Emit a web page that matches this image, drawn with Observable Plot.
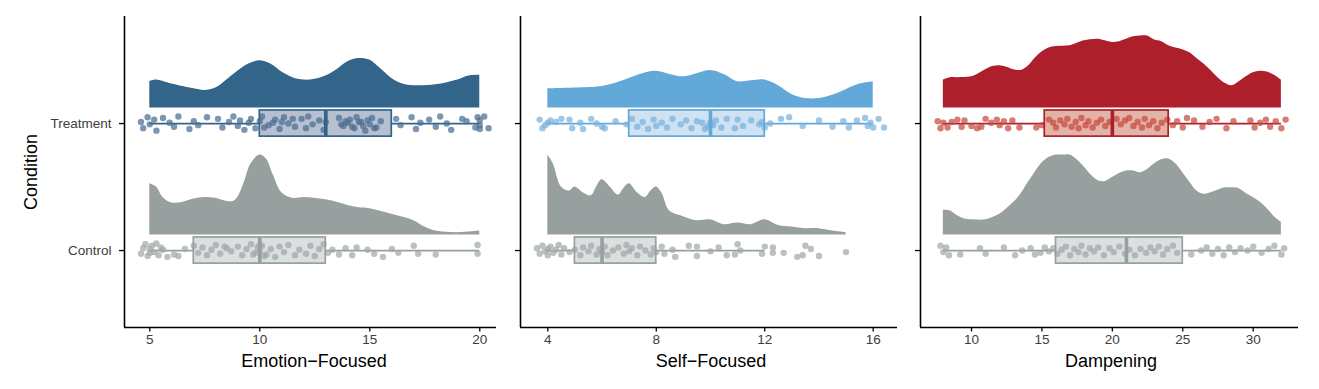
<!DOCTYPE html>
<html><head><meta charset="utf-8">
<script src="https://cdn.jsdelivr.net/npm/d3@7"></script>
<script src="https://cdn.jsdelivr.net/npm/@observablehq/plot@0.6"></script>
<style>
body{margin:0;background:#fff;font-family:"Liberation Sans",Arial,Helvetica,sans-serif}
#chart{position:relative;width:1319px;height:389px;overflow:hidden}
#chart svg{position:absolute;top:0}
.xt{position:absolute;top:352px;width:300px;height:18px;line-height:18px;font-size:18px;text-align:center;color:#000}
.yt{position:absolute;width:200px;height:18px;line-height:18px;font-size:18px;text-align:center;color:#000;transform:rotate(-90deg)}
</style></head><body><div id="chart"></div>
<script>
// ---------- data ----------
const conditions = ["Control", "Treatment"];
const measures = ["Emotion−Focused", "Self−Focused", "Dampening"];

const ticksEmotion = [5, 10, 15, 20];
const ticksSelf = [4, 8, 12, 16];
const ticksDamp = [10, 15, 20, 25, 30];

// box stats: [lower whisker, Q1, median, Q3, upper whisker]
const boxEmotionTreatment = [5, 10, 13, 16, 20];
const boxEmotionControl = [5, 7, 10, 13, 20];
const boxSelfTreatment = [4, 7, 10, 12, 16];
const boxSelfControl = [4, 5, 6, 8, 12];
const boxDampTreatment = [8, 15.2, 20, 24, 32];
const boxDampControl = [8, 16, 21, 25, 32];

// densities: [value, relative density] (1 = tallest curve in the panel)
const densEmotionTreatment = [[5,.33],[5.3,.35],[6,.30],[7,.24],[7.5,.22],[8,.25],[8.5,.35],[9,.46],[9.5,.55],[10,.59],[10.5,.55],[11,.45],[11.5,.38],[12,.35],[12.5,.36],[13,.40],[13.5,.48],[14,.58],[14.5,.62],[15,.60],[15.5,.49],[16,.37],[16.5,.30],[17,.28],[18,.29],[19,.35],[19.5,.40],[20,.41]];
const densEmotionControl = [[5,.64],[5.3,.60],[5.6,.47],[6,.40],[6.5,.41],[7,.45],[7.5,.47],[8,.46],[8.5,.42],[8.8,.42],[9,.47],[9.3,.66],[9.6,.89],[10,1],[10.3,.95],[10.6,.76],[11,.53],[11.5,.46],[12,.47],[12.5,.46],[13,.44],[13.5,.41],[14,.37],[14.5,.34],[15,.33],[16,.26],[17,.18],[17.5,.10],[18,.05],[19,.03],[20,.05]];
const densSelfTreatment = [[4,.24],[5,.25],[6,.27],[6.5,.31],[7,.37],[7.5,.43],[8,.46],[8.5,.42],[9,.39],[9.5,.43],[10,.47],[10.5,.42],[11,.33],[11.5,.34],[12,.35],[12.5,.28],[13,.17],[13.5,.12],[14,.12],[14.5,.16],[15,.23],[15.5,.30],[16,.33]];
const densSelfControl = [[4,1],[4.2,.89],[4.5,.60],[4.8,.55],[5,.60],[5.3,.53],[5.6,.49],[5.8,.60],[6,.69],[6.3,.60],[6.6,.50],[6.8,.58],[7,.64],[7.3,.53],[7.6,.47],[7.8,.55],[8,.60],[8.2,.53],[8.5,.30],[9,.23],[9.5,.18],[10,.19],[10.5,.13],[11,.15],[11.5,.13],[12,.19],[12.5,.12],[13,.10],[13.5,.08],[14,.08],[14.5,.05],[15,.03]];
const densDampTreatment = [[8,.35],[8.5,.38],[9,.38],[10,.39],[10.5,.43],[11,.48],[11.5,.52],[12,.53],[12.5,.51],[13,.48],[13.5,.47],[14,.52],[14.5,.62],[15,.70],[15.5,.75],[16,.77],[17,.78],[17.5,.81],[18,.84],[19,.86],[19.5,.84],[20,.82],[20.5,.83],[21,.86],[21.5,.89],[22,.90],[22.5,.90],[23,.85],[23.5,.83],[24,.78],[24.5,.75],[25,.73],[25.5,.69],[26,.62],[26.5,.55],[27,.47],[27.5,.38],[28,.31],[28.5,.28],[29,.33],[29.5,.39],[30,.44],[30.5,.46],[31,.45],[31.5,.41],[32,.35]];
const densDampControl = [[8,.31],[8.5,.30],[9,.24],[9.5,.20],[10,.19],[11,.19],[11.5,.22],[12,.26],[12.5,.33],[13,.41],[13.5,.51],[14,.65],[14.5,.78],[15,.90],[15.5,.97],[16,1],[16.5,1],[17,1],[17.5,.94],[18,.85],[18.5,.75],[19,.68],[19.5,.67],[20,.72],[20.5,.77],[21,.80],[21.5,.80],[22,.78],[22.5,.82],[23,.89],[23.5,.94],[24,.95],[24.5,.89],[25,.78],[25.5,.66],[26,.55],[26.5,.51],[27,.53],[27.5,.56],[28,.59],[28.5,.59],[29,.58],[29.5,.52],[30,.47],[30.5,.41],[31,.33],[31.5,.23],[32,.16]];

// jittered observations: [value, vertical jitter in -1..1]
const ptsEmotionTreatment = [[4.6,.2],[4.7,-.6],[4.9,.8],[5.0,-.1],[5.2,.5],[5.3,-.9],[5.6,.7],[5.9,.1],[6.1,-.4],[6.3,.9],[6.8,-.7],[7.0,.3],[7.2,-.2],[7.6,.8],[8.1,.6],[8.3,-.5],[8.6,.2],[8.8,.9],[9.0,-.3],[9.1,.4],[9.3,-.8],[9.5,.1],[9.6,.6],[9.8,-.6],[10.0,.3],[10.1,.9],[10.2,-.5],[10.4,-.2],[10.6,.1],[10.7,.5],[10.9,-.7],[11.0,.2],[11.1,.8],[11.3,0],[11.5,.6],[11.6,-.4],[11.9,.6],[12.1,-.6],[12.2,.9],[12.4,-.1],[12.7,.4],[12.9,-.8],[13.0,.2],[13.6,.7],[13.7,-.1],[13.8,-.3],[13.9,.3],[14.0,.1],[14.1,.5],[14.2,-.4],[14.3,-.6],[14.4,.8],[14.5,.2],[14.6,.2],[14.7,-.3],[14.8,-.9],[14.9,.4],[15.0,-.1],[15.1,.7],[15.2,-.6],[15.3,-.5],[15.5,.3],[16.2,.6],[16.4,-.2],[16.9,.8],[17.1,-.7],[17.3,.1],[17.7,.5],[18.0,-.4],[18.2,.9],[18.5,0],[18.7,-.8],[19.2,.6],[19.4,.3],[19.8,-.5],[19.9,.8],[20.0,-.2],[20.0,.4],[20.0,-.7],[20.2,.9],[20.4,-.6]];
const ptsEmotionControl = [[4.6,-.4],[4.7,.3],[4.8,.8],[4.9,-.7],[5.0,.2],[5.0,-.3],[5.1,.6],[5.2,-.2],[5.3,.9],[5.4,-.6],[5.5,.4],[5.6,.1],[5.8,-.8],[6.1,-.5],[6.3,-.7],[6.6,.2],[7.0,.6],[7.2,-.3],[7.4,.4],[7.6,-.6],[7.8,.1],[8.0,.7],[8.2,-.4],[8.4,.5],[8.5,.3],[8.7,-.1],[9.0,.5],[9.2,-.6],[9.4,.2],[9.6,.8],[9.7,-.5],[9.8,-.3],[9.9,.4],[10.0,-.1],[10.0,.7],[10.1,.6],[10.2,-.7],[10.3,-.5],[10.5,.2],[10.7,-.8],[10.9,.5],[11.1,-.2],[11.3,.7],[11.6,-.6],[11.8,.1],[12.1,-.4],[12.3,.6],[12.5,-.7],[12.7,.2],[12.9,.8],[13.1,-.3],[13.3,.1],[13.6,-.5],[13.9,.3],[14.2,-.6],[14.4,.4],[14.9,.1],[15.2,-.4],[15.6,-.8],[16.0,.2],[16.3,-.3],[17.0,.6],[17.2,-.4],[18.0,-.5],[19.9,.7],[19.9,-.4]];
const ptsSelfTreatment = [[3.7,.5],[3.8,-.6],[3.9,-.2],[4.0,.1],[4.1,.4],[4.3,.2],[4.5,.6],[4.8,.5],[4.9,-.6],[5.2,.1],[5.3,-.7],[5.6,.6],[5.8,0],[6.0,-.4],[6.1,-.6],[6.5,.3],[6.9,-.1],[7.1,.6],[7.3,-.4],[7.5,.2],[7.7,-.7],[7.9,.5],[8.0,-.3],[8.2,.1],[8.4,-.5],[8.6,.6],[8.9,-.1],[9.1,.4],[9.3,-.6],[9.5,.3],[9.7,.1],[9.8,-.7],[9.9,-.4],[10.0,.2],[10.0,-.1],[10.1,-.2],[10.2,.4],[10.4,-.5],[10.6,.6],[10.9,-.6],[11.0,.5],[11.2,-.3],[11.5,.4],[11.8,-.1],[11.9,.2],[12.0,-.5],[12.2,0],[12.6,.6],[12.9,.8],[13.4,-.3],[14.0,.4],[14.5,-.4],[14.9,.3],[15.1,-.5],[15.4,.4],[15.7,.7],[15.8,-.3],[15.9,.1],[16.0,-.5],[16.2,.6],[16.4,-.5]];
const ptsSelfControl = [[3.6,.3],[3.7,-.4],[3.8,.6],[3.9,-.1],[4.0,.2],[4.0,-.6],[4.1,.5],[4.2,-.3],[4.3,.1],[4.4,.7],[4.5,-.5],[4.6,.3],[4.8,-.2],[5.0,.1],[5.2,-.6],[5.3,.4],[5.5,-.1],[5.6,.6],[5.8,-.5],[5.9,.2],[6.0,-.2],[6.1,.5],[6.2,-.6],[6.4,0],[6.6,.4],[6.8,-.4],[6.9,.7],[7.0,-.1],[7.1,.3],[7.3,-.6],[7.4,.5],[7.6,0],[7.8,-.5],[7.9,.3],[8.0,-.2],[8.2,.5],[8.3,-.4],[8.6,.1],[8.7,-.8],[9.2,.6],[9.5,.5],[9.5,-.7],[10.0,-.1],[10.3,.4],[10.6,-.6],[10.9,-.5],[11.0,.8],[11.1,0],[11.9,-.4],[12.0,.5],[12.3,.4],[12.3,-.3],[12.7,-.3],[13.2,-.8],[13.4,-.6],[13.5,.6],[13.7,.2],[14.0,-.7],[15.0,-.2]];
const ptsDampTreatment = [[7.6,.3],[7.8,-.6],[8.0,.1],[8.3,-.5],[8.6,.2],[9.0,.5],[9.3,-.4],[9.5,.4],[10.0,-.3],[10.4,-.6],[10.7,-.4],[11.0,.6],[11.4,.1],[11.8,.5],[12.0,-.2],[12.3,.3],[12.6,-.6],[12.9,.4],[13.4,-.5],[14.6,-.5],[15.0,-.2],[15.5,.5],[15.8,.1],[16.0,-.5],[16.3,.4],[16.6,-.1],[16.8,.6],[17.1,-.4],[17.4,.2],[17.6,-.6],[17.8,.7],[18.1,-.2],[18.3,.3],[18.6,-.5],[18.9,.1],[19.2,.5],[19.5,-.3],[19.8,.2],[20.3,.6],[20.6,-.1],[20.9,.4],[21.2,.7],[21.5,-.3],[21.8,.2],[22.1,-.5],[22.3,.6],[22.6,-.2],[22.9,.3],[23.2,-.6],[23.5,.1],[23.9,.5],[24.3,-.2],[24.6,.3],[25.0,-.5],[25.3,.7],[25.8,.4],[26.4,-.4],[26.9,.2],[27.4,.6],[28.1,-.6],[28.6,.3],[29.8,.4],[30.1,-.5],[30.5,.1],[30.9,.5],[31.2,-.4],[31.6,.3],[32.0,-.6],[32.3,.5]];
const ptsDampControl = [[7.8,.6],[8.0,-.2],[8.2,.4],[8.4,-.6],[9.2,-.5],[10.6,.3],[11.0,-.4],[12.3,.4],[13.1,-.6],[13.6,0],[14.2,.3],[14.5,-.5],[14.9,-.3],[15.2,.4],[15.5,-.1],[15.8,.3],[16.1,-.4],[16.4,.1],[16.7,.5],[17.0,-.6],[17.3,.2],[17.6,-.2],[17.8,.6],[18.1,-.5],[18.4,.3],[18.7,-.1],[19.0,.4],[19.4,-.6],[19.8,.3],[20.1,-.2],[20.5,.5],[20.9,-.4],[21.2,.1],[21.6,-.6],[22.0,.2],[22.4,-.3],[22.7,.4],[23.0,-.1],[23.3,.5],[23.6,-.5],[23.9,.2],[24.3,.6],[24.6,-.3],[25.6,-.5],[26.3,0],[26.7,.4],[27.1,-.4],[27.5,.2],[27.9,-.6],[28.3,.4],[28.7,-.2],[29.1,.3],[29.6,0],[30.0,.5],[30.6,-.3],[31.1,.2],[31.5,.6],[32.0,-.5],[32.2,.3]];

// ---------- styling ----------
const treatmentColors = ["#33658A", "#62A8D8", "#AD1F2A"];
const treatmentBoxFills = ["#b7c0d0", "#cfe2f3", "#e3b3a7"];
const treatmentPointColors = ["#4a6d93", "#7ab2de", "#c84a40"];
const controlColor = "#979F9F";
const controlBoxFill = "#dcdfdf";
const controlPointColor = "#a1a7a7";

const panels = [
  {title: measures[0], left: 0, width: 500, mL: 124, mR: 4, domain: [3.85, 20.76], ticks: ticksEmotion, titleX: 314,
   dens: [densEmotionControl, densEmotionTreatment], box: [boxEmotionControl, boxEmotionTreatment], pts: [ptsEmotionControl, ptsEmotionTreatment]},
  {title: measures[1], left: 500, width: 400, mL: 20, mR: 3, domain: [2.993, 16.896], ticks: ticksSelf, titleX: 711,
   dens: [densSelfControl, densSelfTreatment], box: [boxSelfControl, boxSelfTreatment], pts: [ptsSelfControl, ptsSelfTreatment]},
  {title: measures[2], left: 900, width: 419, mL: 20, mR: 21, domain: [6.379, 33.216], ticks: ticksDamp, titleX: 1111,
   dens: [densDampControl, densDampTreatment], box: [boxDampControl, boxDampTreatment], pts: [ptsDampControl, ptsDampTreatment]}
];

const yDomain = [0.394, 2.843];
const densOffset = 0.122, densScale = 0.63, boxHalf = 0.103, jitterAmp = 0.062;
const chart = document.getElementById("chart");

panels.forEach((p, pi) => {
  const marks = [];
  conditions.forEach((cond, ci) => {
    const cy = ci + 1;
    const isT = cond === "Treatment";
    const col = isT ? treatmentColors[pi] : controlColor;
    const boxFill = isT ? treatmentBoxFills[pi] : controlBoxFill;
    const ptCol = isT ? treatmentPointColors[pi] : controlPointColor;
    const dens = p.dens[ci].map(([x, d]) => ({x, d}));
    const [lo, q1, med, q3, hi] = p.box[ci];
    const pts = p.pts[ci].map(([x, j]) => ({x, j}));
    marks.push(
      Plot.areaY(dens, {x: "x", y1: cy + densOffset, y2: d => cy + densOffset + d.d * densScale, fill: col, curve: "catmull-rom"}),
      Plot.ruleY([{a: lo, b: q1}, {a: q3, b: hi}], {y: cy, x1: "a", x2: "b", stroke: col, strokeWidth: 1.7}),
      Plot.rect([{q1, q3}], {x1: "q1", x2: "q3", y1: cy - boxHalf, y2: cy + boxHalf, fill: boxFill}),
      Plot.dot(pts, {x: "x", y: d => cy + d.j * jitterAmp, r: 3.2, fill: ptCol, fillOpacity: 0.72, stroke: "none"}),
      Plot.rect([{q1, q3}], {x1: "q1", x2: "q3", y1: cy - boxHalf, y2: cy + boxHalf, fill: "none", stroke: col, strokeWidth: 1.7}),
      Plot.ruleX([med], {x: d => d, y1: cy - boxHalf, y2: cy + boxHalf, stroke: col, strokeWidth: 3.6})
    );
  });
  marks.push(
    Plot.ruleX([p.domain[0]], {stroke: "#000", strokeWidth: 1.6}),
    Plot.ruleY([yDomain[0]], {stroke: "#000", strokeWidth: 1.6}),
    Plot.axisX({ticks: p.ticks, tickSize: 4.5, tickPadding: 2, fontSize: 13.5, stroke: "#000", fill: "#3d3d3d", strokeWidth: 1.3, label: null}),
    Plot.axisY({ticks: [1, 2], tickFormat: pi === 0 ? (v => conditions[v - 1]) : (() => ""), tickSize: 5, tickPadding: 8, fontSize: 13.5, stroke: "#000", fill: "#3d3d3d", strokeWidth: 1.3, label: null})
  );
  const svg = Plot.plot({
    width: p.width, height: 389,
    marginLeft: p.mL, marginRight: p.mR, marginTop: 16, marginBottom: 62,
    x: {domain: p.domain},
    y: {domain: yDomain},
    style: {fontFamily: '"Liberation Sans", Arial, Helvetica, sans-serif', fontSize: "13.5px", background: "transparent", overflow: "visible"},
    marks
  });
  svg.style.left = p.left + "px";
  chart.appendChild(svg);
  const t = document.createElement("div");
  t.className = "xt";
  t.textContent = p.title;
  t.style.left = (p.titleX - 150) + "px";
  chart.appendChild(t);
});

const yt = document.createElement("div");
yt.className = "yt";
yt.textContent = "Condition";
yt.style.left = (30.8 - 100) + "px";
yt.style.top = (171.5 - 9) + "px";
chart.appendChild(yt);
</script>
</body></html>
